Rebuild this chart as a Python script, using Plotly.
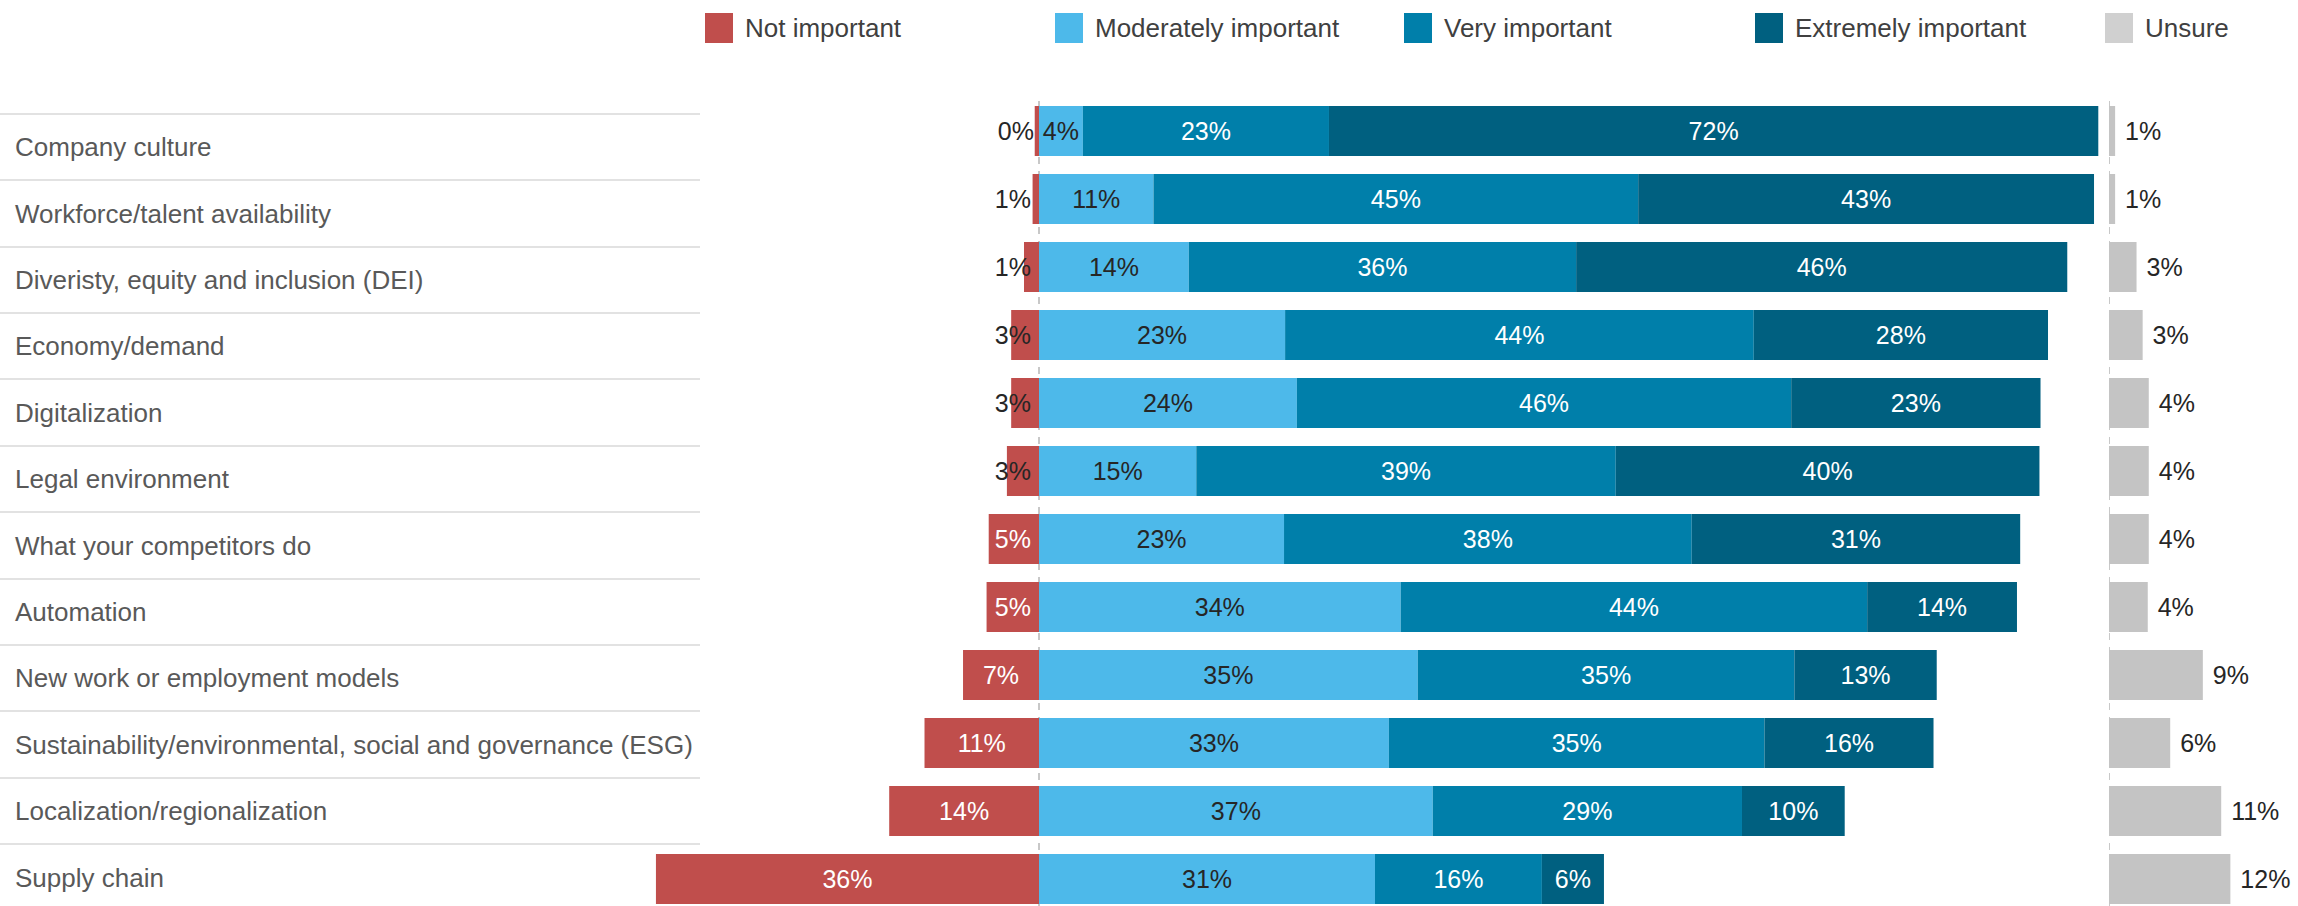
import plotly.graph_objects as go

# ---------------- data ----------------
categories = [
    "Company culture",
    "Workforce/talent availability",
    "Diveristy, equity and inclusion (DEI)",
    "Economy/demand",
    "Digitalization",
    "Legal environment",
    "What your competitors do",
    "Automation",
    "New work or employment models",
    "Sustainability/environmental, social and governance (ESG)",
    "Localization/regionalization",
    "Supply chain",
]
not_important = [0.4, 0.6, 1.4, 2.6, 2.6, 3.0, 4.7, 4.9, 7.1, 10.7, 14.0, 35.8]
moderately_important = [4.1, 10.7, 14.0, 23.0, 24.1, 14.7, 22.9, 33.8, 35.4, 32.7, 36.8, 31.4]
very_important = [23.0, 45.3, 36.2, 43.8, 46.2, 39.2, 38.1, 43.6, 35.2, 35.1, 28.9, 15.6]
extremely_important = [71.9, 42.6, 45.9, 27.5, 23.3, 39.6, 30.7, 14.0, 13.3, 15.8, 9.6, 5.8]
unsure = [0.6, 0.6, 2.7, 3.3, 3.9, 3.9, 3.9, 3.8, 9.2, 6.0, 11.0, 11.9]

legend_names = ["Not important", "Moderately important", "Very important",
                "Extremely important", "Unsure"]

# ---------------- style ----------------
W, H = 2298, 906
FONT = "Liberation Sans, Arial, sans-serif"
C_RED = "#C04E4C"
C_LIGHT = "#4DB9EA"
C_MID = "#007FAA"
C_DARK = "#006080"
C_GRAY = "#C4C4C4"
TXT_DARK = "#262626"
VAL_SIZE = 25
NBSP = "\u00a0"
THIN = "\u2009"


def pct(v):
    return f"{int(v + 0.5)}%"


def px_x(p):
    return p / W


def px_y(p):
    return 1 - p / H


fig = go.Figure()

# Not important, split by label placement
big = [v >= 6 for v in not_important]
fig.add_trace(go.Bar(
    y=categories, x=[-v if b else None for v, b in zip(not_important, big)],
    orientation="h", marker=dict(color=C_RED, line=dict(width=0)),
    text=[pct(v) if b else "" for v, b in zip(not_important, big)],
    textposition="inside", insidetextanchor="middle", constraintext="none",
    textangle=0,
    insidetextfont=dict(color="white", size=VAL_SIZE, family=FONT),
    xaxis="x", yaxis="y", showlegend=False, hoverinfo="skip"))
fig.add_trace(go.Bar(
    y=categories, x=[-v if not b else None for v, b in zip(not_important, big)],
    orientation="h", marker=dict(color=C_RED, line=dict(width=0)),
    text=[pct(v) + THIN if not b else "" for v, b in zip(not_important, big)],
    textposition="inside", insidetextanchor="start", constraintext="none",
    textangle=0,
    insidetextfont=dict(color=["white" if v >= 4.5 else TXT_DARK for v in not_important],
                        size=VAL_SIZE, family=FONT),
    xaxis="x", yaxis="y", showlegend=False, hoverinfo="skip"))

for vals, col, tcol in [(moderately_important, C_LIGHT, TXT_DARK),
                        (very_important, C_MID, "white"),
                        (extremely_important, C_DARK, "white")]:
    fig.add_trace(go.Bar(
        y=categories, x=vals, orientation="h",
        marker=dict(color=col, line=dict(width=0)),
        text=[pct(v) for v in vals], textposition="inside",
        insidetextanchor="middle", constraintext="none", textangle=0,
        insidetextfont=dict(color=tcol, size=VAL_SIZE, family=FONT),
        xaxis="x", yaxis="y", showlegend=False, hoverinfo="skip"))

fig.add_trace(go.Bar(
    y=categories, x=unsure, orientation="h",
    marker=dict(color=C_GRAY, line=dict(width=0)),
    text=[NBSP + pct(v) for v in unsure], textposition="outside", cliponaxis=False,
    textangle=0, constraintext="none",
    outsidetextfont=dict(color=TXT_DARK, size=VAL_SIZE, family=FONT),
    xaxis="x2", yaxis="y", showlegend=False, hoverinfo="skip"))

# label column (category tick labels on their own axis)
fig.add_trace(go.Scatter(
    y=categories, x=[0.5] * len(categories), mode="markers",
    marker=dict(opacity=0), xaxis="x3", yaxis="y2",
    showlegend=False, hoverinfo="skip"))

# dashed zero lines
top_frac = px_y(98)
for xr in ["x", "x2"]:
    fig.add_shape(type="line", xref=xr, yref="paper", x0=0, x1=0,
                  y0=0, y1=top_frac, layer="below",
                  line=dict(color="#C8C8C8", width=2, dash="7px,7px"))

# manual legend
legend_colors = [C_RED, C_LIGHT, C_MID, C_DARK, "#D0D0D0"]
legend_left_px = [705, 1055, 1404, 1755, 2105]
for name, col, lx in zip(legend_names, legend_colors, legend_left_px):
    fig.add_shape(type="rect", xref="paper", yref="paper",
                  x0=px_x(lx), x1=px_x(lx + 28), y0=px_y(43), y1=px_y(13),
                  fillcolor=col, line=dict(width=0))
    fig.add_annotation(xref="paper", yref="paper", x=px_x(lx + 38), y=px_y(28),
                       text=name, showarrow=False, xanchor="left", yanchor="middle",
                       font=dict(family=FONT, size=26, color="#404040"))

# bar rows: centre of row i at 131 + 68*i px
row0, pitch = 131, 68
yrange_main = [(H - row0) / pitch, -row0 / pitch]
# label rows: centre of row i at 147 + 66.4*i px
lrow0, lpitch = 147, 66.4
yrange_lab = [(H - lrow0) / lpitch, -lrow0 / lpitch]

fig.update_layout(
    width=W, height=H,
    margin=dict(l=0, r=0, t=0, b=0, pad=0),
    paper_bgcolor="white", plot_bgcolor="rgba(0,0,0,0)",
    barmode="relative", bargap=1 - 50 / 68,
    font=dict(family=FONT, size=26, color="#595959"),
    xaxis=dict(domain=[px_x(611), px_x(2109)], range=[-40, 100],
               visible=False, fixedrange=True),
    xaxis2=dict(domain=[px_x(2109), 1], range=[0, 189 / 10.2],
                visible=False, anchor="y", fixedrange=True),
    xaxis3=dict(domain=[0, px_x(700)], range=[0, 1], visible=False,
                anchor="y2", fixedrange=True),
    yaxis=dict(domain=[0, 1], type="category", categoryorder="array",
               categoryarray=categories, range=yrange_main,
               visible=False, anchor="x", fixedrange=True),
    yaxis2=dict(domain=[0, 1], type="category", categoryorder="array",
                categoryarray=categories, range=yrange_lab, anchor="x3",
                showgrid=True, gridcolor="#E2E2E2", gridwidth=2,
                tickson="boundaries", ticks="", showline=False, zeroline=False,
                ticklabelposition="inside", ticklabelstandoff=12,
                tickfont=dict(family=FONT, size=26, color="#595959"),
                fixedrange=True),
)

fig.write_html(
    "out.html",
    config={"displayModeBar": False},
    post_script="document.body.style.margin='0';document.body.style.overflow='hidden';",
)
